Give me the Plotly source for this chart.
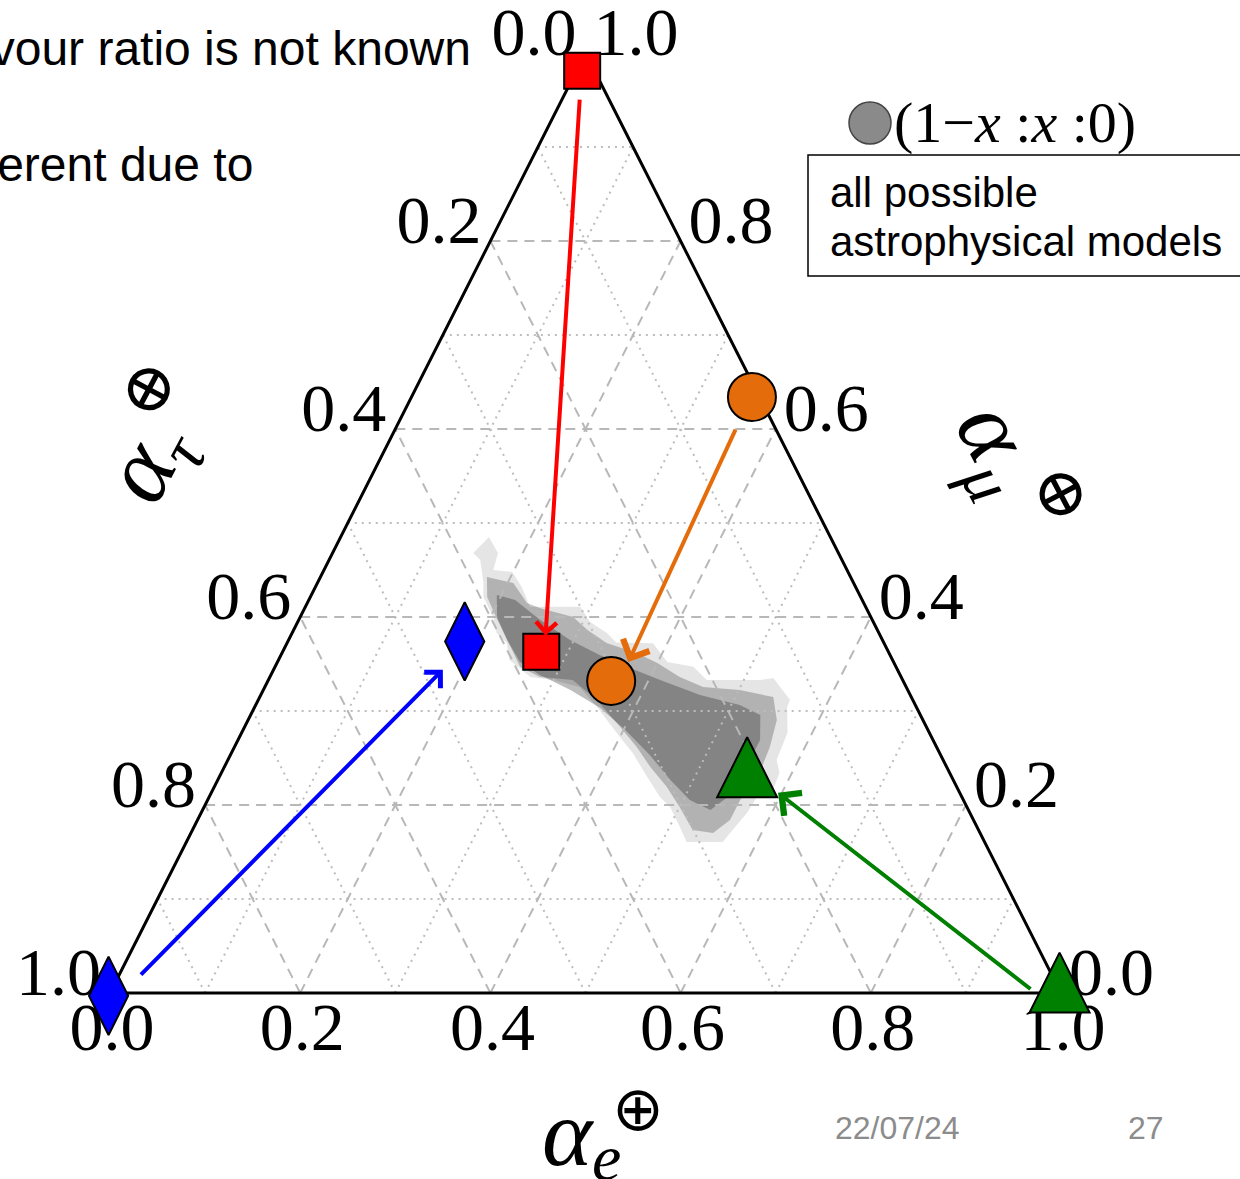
import plotly.graph_objects as go

# ---------------- data: ternary fractions (e = alpha_e, mu = alpha_mu, tau = 1 - e - mu) ----------------
tick_values = [0.0, 0.2, 0.4, 0.6, 0.8, 1.0]
tick_labels = ["0.0", "0.2", "0.4", "0.6", "0.8", "1.0"]
grid_major = [0.2, 0.4, 0.6, 0.8]
grid_minor = [0.1, 0.3, 0.5, 0.7, 0.9]

# density of "all possible astrophysical models" read as three nested levels
outer_e = [0.156, 0.174, 0.178, 0.199, 0.217, 0.236, 0.289, 0.307, 0.331, 0.346, 0.385, 0.410, 0.440,
           0.461, 0.517, 0.530, 0.559, 0.560, 0.574, 0.577, 0.587, 0.589, 0.576, 0.574, 0.568, 0.564,
           0.526, 0.511, 0.490, 0.474, 0.450, 0.422, 0.400, 0.360, 0.331, 0.299, 0.274, 0.243, 0.231,
           0.215, 0.203, 0.182, 0.174, 0.159, 0.148]
outer_mu = [0.485, 0.468, 0.450, 0.448, 0.432, 0.411, 0.411, 0.395, 0.383, 0.373, 0.372, 0.352, 0.347,
            0.333, 0.333, 0.335, 0.312, 0.304, 0.277, 0.248, 0.234, 0.216, 0.2085, 0.1915, 0.1734, 0.1606,
            0.1606, 0.1766, 0.1979, 0.2085, 0.2298, 0.2553, 0.2723, 0.3043, 0.3255, 0.333, 0.3362, 0.3543,
            0.3723, 0.383, 0.400, 0.4213, 0.4372, 0.4606, 0.468]
mid_e = [0.175, 0.206, 0.231, 0.247, 0.287, 0.309, 0.336, 0.373, 0.400, 0.431, 0.461, 0.501, 0.540,
         0.556, 0.563, 0.566, 0.560, 0.560, 0.549, 0.526, 0.500, 0.476, 0.448, 0.423, 0.395, 0.356,
         0.320, 0.284, 0.258, 0.230, 0.209, 0.186]
mid_mu = [0.4426, 0.4362, 0.4149, 0.4096, 0.400, 0.3862, 0.3723, 0.3617, 0.3511, 0.3362, 0.3255, 0.3223,
          0.3149, 0.2904, 0.2617, 0.234, 0.2053, 0.184, 0.1702, 0.1734, 0.1979, 0.2191, 0.2404, 0.2617,
          0.283, 0.3117, 0.333, 0.3362, 0.3468, 0.3755, 0.3968, 0.4213]
core_e = [0.195, 0.217, 0.254, 0.296, 0.335, 0.374, 0.412, 0.462, 0.509, 0.536, 0.549, 0.549, 0.547,
          0.534, 0.507, 0.476, 0.441, 0.402, 0.364, 0.323, 0.283, 0.255, 0.230, 0.207]
core_mu = [0.4234, 0.4181, 0.3968, 0.3755, 0.3596, 0.3457, 0.333, 0.317, 0.3064, 0.2957, 0.2691, 0.2372,
           0.2106, 0.1947, 0.2053, 0.2266, 0.2532, 0.2798, 0.3032, 0.3223, 0.3383, 0.3521, 0.3755, 0.400]

# source and Earth flavour ratios (first = source, second = at Earth)
square_e, square_mu = [0.006, 0.272], [0.981, 0.363]        # red squares
circle_e, circle_mu = [0.358, 0.361], [0.634, 0.332]        # orange circles
diamond_e, diamond_mu = [0.0, 0.186], [-0.003, 0.374]       # blue diamonds
triangle_e, triangle_mu = [0.977, 0.534], [0.043, 0.272]    # green triangles (apex)

arrow_tail_e = [0.018, 0.358, 0.022, 0.968]
arrow_tail_mu = [0.952, 0.601, 0.018, 0.003]
arrow_tip_e = [0.268, 0.369, 0.178, 0.596]
arrow_tip_mu = [0.380, 0.352, 0.344, 0.213]
arrow_colors = ["#ff0000", "#e46c0a", "#0000ff", "#008000"]
arrow_sizes = [1.0, 1.4, 1.1, 1.4]

# ---------------- geometry of the page ----------------
FIG_W, FIG_H = 1240, 1179
PX0, PXW = 110, 951      # pixel x of e-axis 0, pixel width of the triangle base
PY0, PYH = 993, 940      # pixel y of the base, pixel height of the triangle


def cx(e, mu):
    return e + mu / 2.0


def cy(e, mu):
    return mu


def dxp(p):   # pixel offset -> data offset (x)
    return p / PXW


def dyp(p):   # pixel offset (downwards) -> data offset (y)
    return -p / PYH


def px(p):
    return p / FIG_W


def py(p):
    return 1 - p / FIG_H


fig = go.Figure()

# gray density
for es, mus, col in [(outer_e, outer_mu, "rgba(0,0,0,0.10)"),
                     (mid_e, mid_mu, "rgba(0,0,0,0.22)"),
                     (core_e, core_mu, "rgba(0,0,0,0.26)")]:
    fig.add_trace(go.Scatter(x=[cx(a, b) for a, b in zip(es, mus)],
                             y=[cy(a, b) for a, b in zip(es, mus)],
                             mode="lines", fill="toself", fillcolor=col,
                             line=dict(width=0), hoverinfo="skip"))


def grid_xy(vals):
    xs, ys = [], []
    for v in vals:
        for (e0, m0), (e1, m1) in [((0, v), (1 - v, v)),          # mu = v
                                   ((v, 0), (v, 1 - v)),          # e = v
                                   ((1 - v, 0), (0, 1 - v))]:     # tau = v
            xs += [cx(e0, m0), cx(e1, m1), None]
            ys += [cy(e0, m0), cy(e1, m1), None]
    return xs, ys


gx, gy = grid_xy(grid_minor)
fig.add_trace(go.Scatter(x=gx, y=gy, mode="lines",
                         line=dict(color="#bdbdbd", width=2, dash="2px,5px"), hoverinfo="skip"))
gx, gy = grid_xy(grid_major)
fig.add_trace(go.Scatter(x=gx, y=gy, mode="lines",
                         line=dict(color="#b8b8b8", width=2, dash="10px,7px"), hoverinfo="skip"))

# triangle frame
ve = [0, 1, 0, 0]
vm = [0, 0, 1, 0]
fig.add_trace(go.Scatter(x=[cx(a, b) for a, b in zip(ve, vm)], y=[cy(a, b) for a, b in zip(ve, vm)],
                         mode="lines", line=dict(color="black", width=3), hoverinfo="skip"))

# tick labels
tick_font = dict(family="Liberation Serif, DejaVu Serif, serif", size=68, color="black")
fig.add_trace(go.Scatter(x=[cx(0, 1 - v) + dxp(-9) for v in tick_values],
                         y=[cy(0, 1 - v) + dyp(-15) for v in tick_values],
                         mode="text", text=tick_labels, textposition="middle left",
                         textfont=tick_font, hoverinfo="skip", cliponaxis=False))
fig.add_trace(go.Scatter(x=[cx(1 - v, v) + dxp(8) for v in tick_values],
                         y=[cy(1 - v, v) + dyp(-15) for v in tick_values],
                         mode="text", text=tick_labels, textposition="middle right",
                         textfont=tick_font, hoverinfo="skip", cliponaxis=False))
fig.add_trace(go.Scatter(x=[cx(v, 0) + dxp(2) for v in tick_values],
                         y=[cy(v, 0) + dyp(40) for v in tick_values],
                         mode="text", text=tick_labels, textposition="middle center",
                         textfont=tick_font, hoverinfo="skip", cliponaxis=False))

# markers
outline = dict(color="black", width=2)
fig.add_trace(go.Scatter(x=[cx(a, b) for a, b in zip(square_e, square_mu)],
                         y=[cy(a, b) for a, b in zip(square_e, square_mu)], mode="markers",
                         marker=dict(symbol="square", size=36, color="#ff0000", line=outline),
                         cliponaxis=False))
fig.add_trace(go.Scatter(x=[cx(a, b) for a, b in zip(circle_e, circle_mu)],
                         y=[cy(a, b) for a, b in zip(circle_e, circle_mu)], mode="markers",
                         marker=dict(symbol="circle", size=48, color="#e46c0a", line=outline),
                         cliponaxis=False))
fig.add_trace(go.Scatter(x=[cx(a, b) for a, b in zip(diamond_e, diamond_mu)],
                         y=[cy(a, b) for a, b in zip(diamond_e, diamond_mu)], mode="markers",
                         marker=dict(symbol="diamond-tall", size=56, color="#0000ff", line=outline),
                         cliponaxis=False))
fig.add_trace(go.Scatter(x=[cx(a, b) for a, b in zip(triangle_e, triangle_mu)],
                         y=[cy(a, b) for a, b in zip(triangle_e, triangle_mu)], mode="markers",
                         marker=dict(symbol="arrow-up", size=60, color="#008000", line=outline),
                         cliponaxis=False))

annotations = []
for te, tm, he, hm, col, sz in zip(arrow_tail_e, arrow_tail_mu, arrow_tip_e, arrow_tip_mu,
                                   arrow_colors, arrow_sizes):
    annotations.append(dict(x=cx(he, hm), y=cy(he, hm), ax=cx(te, tm), ay=cy(te, tm),
                            xref="x", yref="y", axref="x", ayref="y", text="",
                            showarrow=True, arrowhead=4, arrowsize=sz, arrowwidth=4,
                            arrowcolor=col, standoff=0))


def label(x, y, text, font, xanchor="center", angle=0):
    return dict(x=px(x), y=py(y), xref="paper", yref="paper", showarrow=False, text=text,
                font=font, xanchor=xanchor, yanchor="middle", textangle=angle)


serif = "Liberation Serif, DejaVu Serif, serif"
title_font = dict(family=serif, size=96, color="black")
sans = "Liberation Sans, Arial, sans-serif"
annotations += [
    # bottom axis title alpha_e (pieces placed separately)
    label(568, 1132, "<i>α</i>", title_font),
    label(606, 1157, "<i>e</i>", dict(family=serif, size=66, color="black")),
    label(638, 1108, "⊕", dict(family="DejaVu Sans, sans-serif", size=62, color="black")),
    label(157, 436, "<i>α</i><sub><i>τ</i></sub><sup>⊕</sup>", title_font, angle=-62),
    label(1016, 470, "<i>α</i><sub><i>μ</i></sub><sup>⊕</sup>", title_font, angle=62),
    # legend
    label(1015, 123, "(1−<i>x</i> :<i>x</i> :0)", dict(family=serif, size=58, color="black")),
    label(828, 192, "all possible", dict(family=sans, size=42, color="black"), xanchor="left"),
    label(828, 242, "astrophysical models", dict(family=sans, size=42, color="black"), xanchor="left"),
    # slide background text
    label(473, 48, "flavour ratio is not known", dict(family=sans, size=48, color="black"), xanchor="right"),
    label(255, 165, "different due to", dict(family=sans, size=48, color="black"), xanchor="right"),
    label(897, 1128, "22/07/24", dict(family=sans, size=32, color="#8c8c8c")),
    label(1146, 1128, "27", dict(family=sans, size=32, color="#8c8c8c")),
]

shapes = [
    dict(type="rect", xref="paper", yref="paper", x0=px(808), x1=px(1250), y0=py(276), y1=py(155),
         line=dict(color="black", width=1.5), fillcolor="rgba(0,0,0,0)"),
    dict(type="circle", xref="paper", yref="paper", x0=px(849), x1=px(891), y0=py(144), y1=py(102),
         line=dict(color="#444444", width=1.5), fillcolor="#8a8a8a"),
]

fig.update_layout(
    width=FIG_W, height=FIG_H, margin=dict(l=0, r=0, t=0, b=0),
    paper_bgcolor="white", plot_bgcolor="white", showlegend=False,
    xaxis=dict(range=[(0 - PX0) / PXW, (FIG_W - PX0) / PXW], visible=False, fixedrange=True),
    yaxis=dict(range=[(PY0 - FIG_H) / PYH, PY0 / PYH], visible=False, fixedrange=True),
    annotations=annotations, shapes=shapes,
)

fig.write_html("out.html")
